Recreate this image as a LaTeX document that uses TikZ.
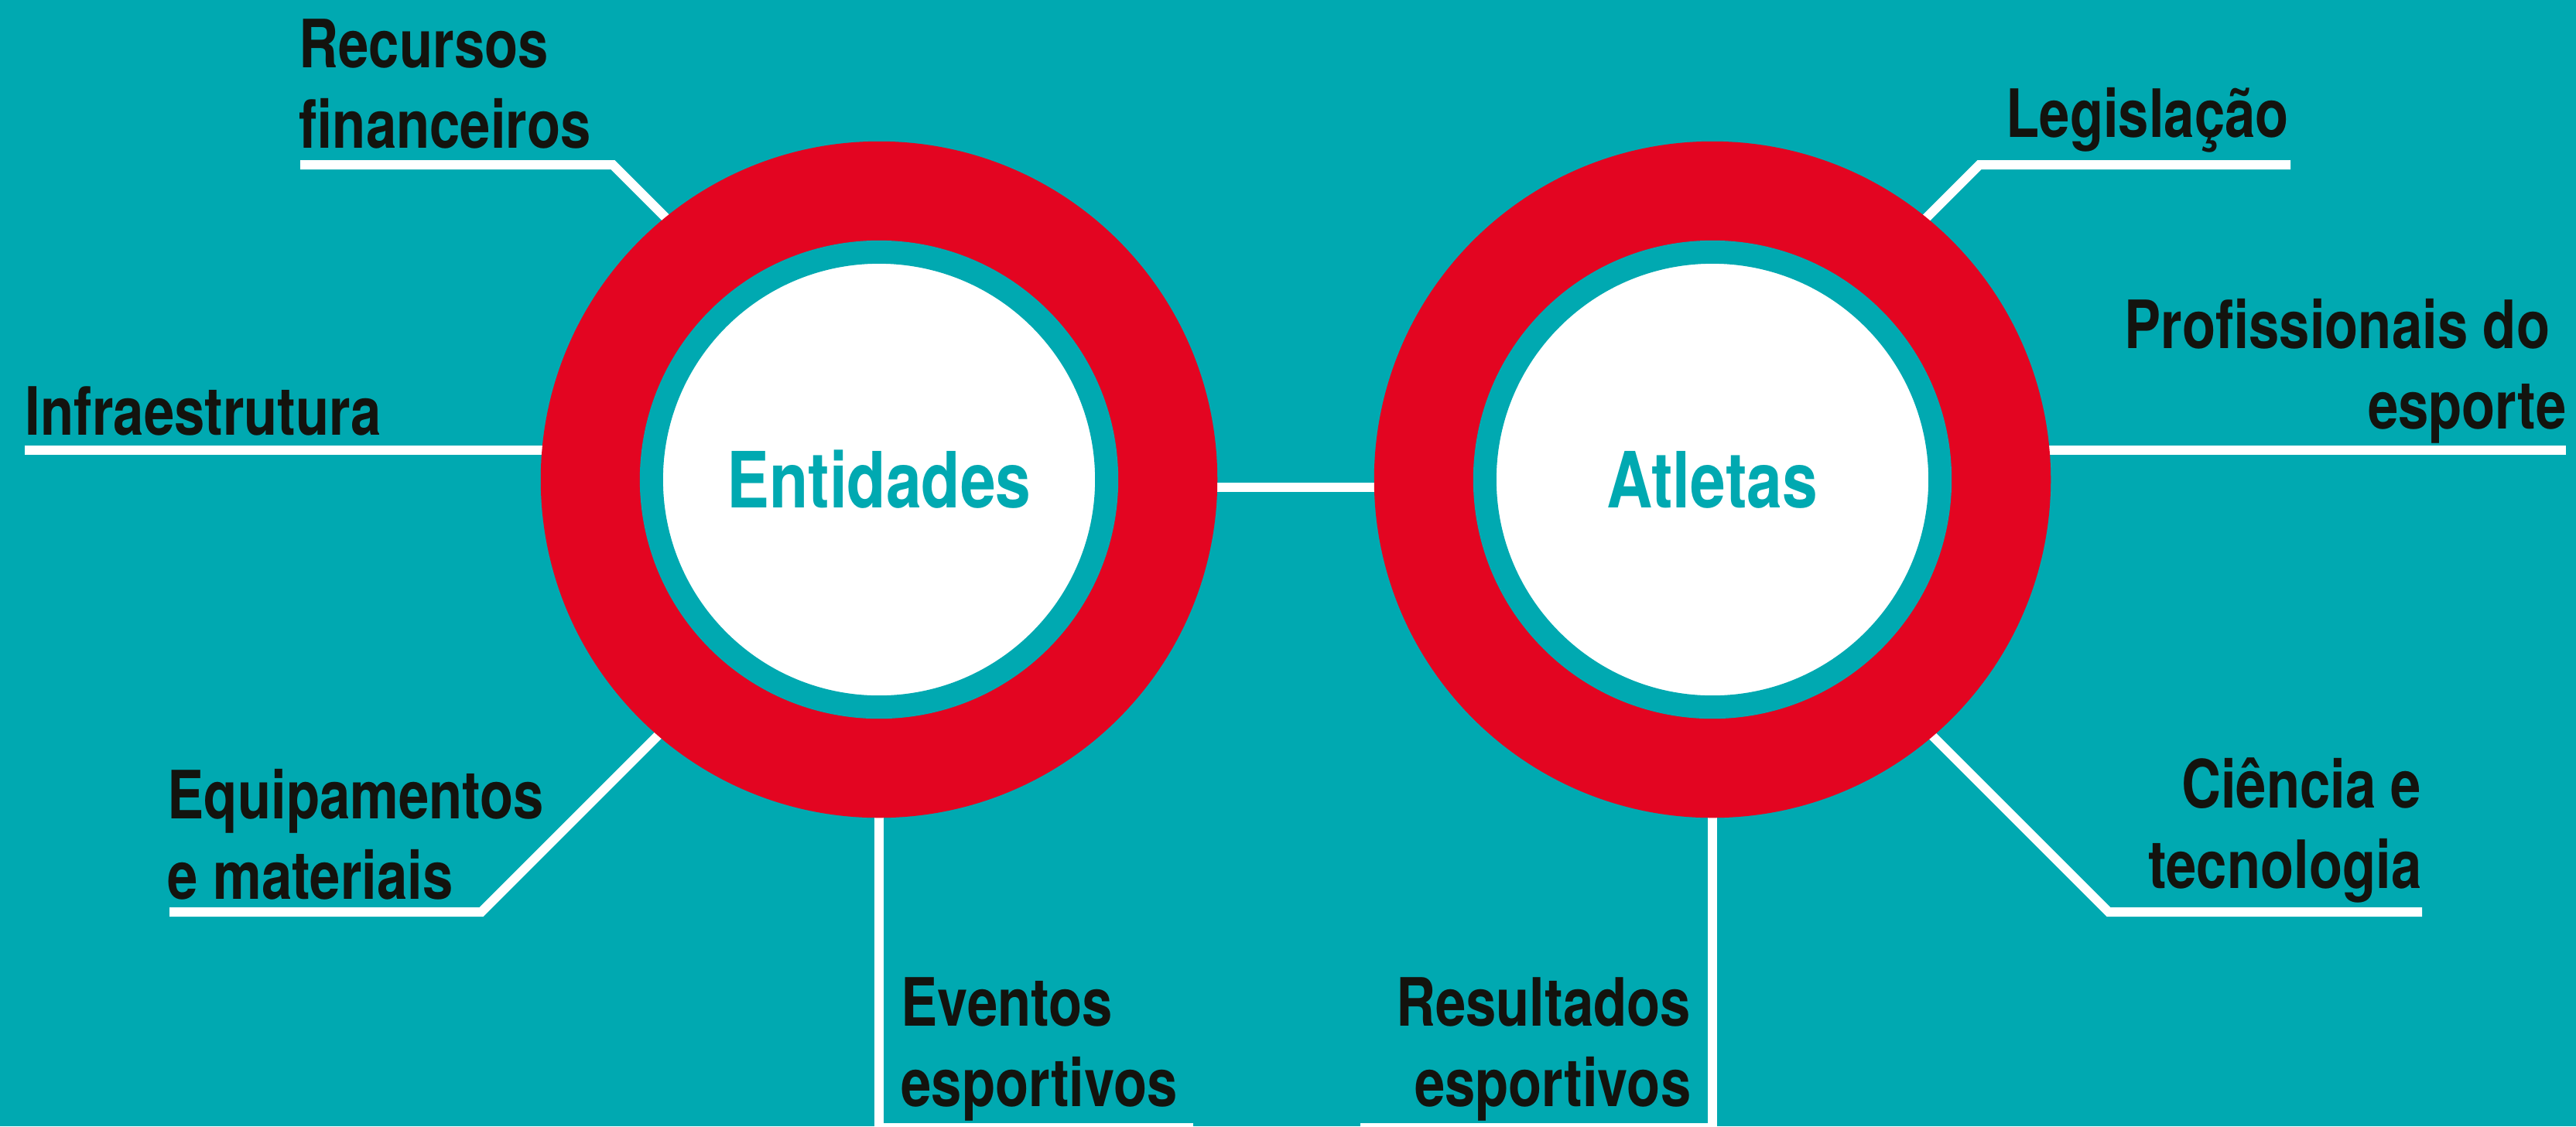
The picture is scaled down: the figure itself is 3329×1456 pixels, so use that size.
\documentclass[tikz,border=0pt]{standalone}
\usepackage{fontspec}
\usetikzlibrary{backgrounds}
\newfontfamily\lblfont{texgyreheros-bold.otf}[FakeStretch=0.82]
\definecolor{fundo}{HTML}{00A9B1}
\definecolor{anel}{HTML}{E30521}
\definecolor{tinta}{HTML}{13130E}
\tikzset{
  link/.style={draw=white, line width=0.12cm},
  rotulo/.style={inner sep=0, text=tinta, font=\lblfont\fontsize{24.5}{29.5}\selectfont},
  roda/.style={circle, inner sep=0, minimum size=5.88cm, fill=white, draw=fundo,
    line width=0.3cm, preaction={draw=anel, line width=2.86cm},
    text=fundo, font=\lblfont\fontsize{28.5}{34}\selectfont}
}
\begin{document}
\begin{tikzpicture}[x=0.01cm, y=-0.01cm]
\useasboundingbox (0,0) rectangle (3329,1456);
% os dois aneis
\node[roda] (ent) at (1136,620) {Entidades};
\node[roda] (atl) at (2213,620) {Atletas};
% rotulos (base = ultima linha)
\node[rotulo, anchor=base west, align=left] (rec) at (386,191) {Recursos\\financeiros};
\node[rotulo, anchor=base west] (inf) at (32,562) {Infraestrutura};
\node[rotulo, anchor=base west, align=left] (equ) at (216,1162) {Equipamentos\\e materiais};
\node[rotulo, anchor=base west, align=left] (evt) at (1164,1430) {Eventos\\esportivos};
\node[rotulo, anchor=base east, align=right] (res) at (2186,1430) {Resultados\\esportivos};
\node[rotulo, anchor=base west] (leg) at (2592,177) {Legislação};
\node[rotulo, anchor=base east, align=right] (pro) at (3317,554) {Profissionais do\hspace*{0.21cm}\\esporte};
\node[rotulo, anchor=base east, align=right] (cie) at (3130,1148) {Ciência e\\tecnologia};
% pontos das linhas
\coordinate (recA) at (388,213);
\coordinate (recB) at (792,213);
\coordinate (infA) at (32,582);
\coordinate (equA) at (219,1179);
\coordinate (equB) at (622,1179);
\coordinate (evtB) at (1542,1458);
\coordinate (resB) at (1758,1458);
\coordinate (legA) at (2960,213);
\coordinate (legB) at (2558,213);
\coordinate (proA) at (3316,582);
\coordinate (cieA) at (3130,1179);
\coordinate (cieB) at (2725,1179);
\begin{scope}[on background layer]
\fill[fundo] (0,0) rectangle (3329,1456);
\draw[link] (recA) -- (recB) -- ++(170,170);
\draw[link] (infA) -- (infA -| ent.center);
\draw[link] (equA) -- (equB) -- ++(300,-300);
\draw[link] (ent.center) -- (ent.center |- evtB) -- (evtB);
\draw[link] ([yshift=-0.1cm]ent.center) -- ([yshift=-0.1cm]atl.center);
\draw[link] (atl.center) -- (atl.center |- resB) -- (resB);
\draw[link] (legA) -- (legB) -- ++(-170,170);
\draw[link] (proA) -- (proA -| atl.center);
\draw[link] (cieA) -- (cieB) -- ++(-300,-300);
\end{scope}
\end{tikzpicture}
\end{document}
